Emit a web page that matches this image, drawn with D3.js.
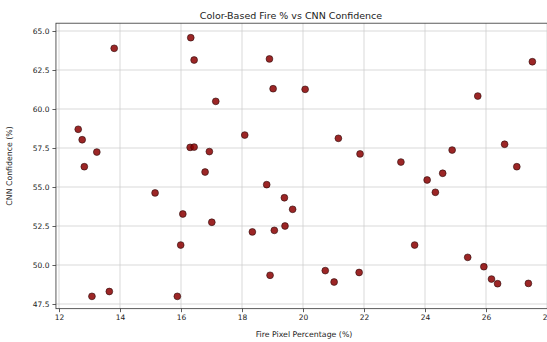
<!DOCTYPE html>
<html>
<head>
<meta charset="utf-8">
<script src="https://cdn.jsdelivr.net/npm/d3@7"></script>
<style>
  body { margin: 0; background: #fff; }
  svg { display: block; }
</style>
</head>
<body>
<svg id="chart"></svg>
<script>
// fire pixel percentage (%) for each sample
const firePct = [
  12.63, 12.76, 12.83, 13.08, 13.24, 13.65, 13.81, 15.15, 15.88, 15.99,
  16.06, 16.30, 16.43, 16.32, 16.43, 16.79, 16.93, 17.01, 17.14, 18.09,
  18.34, 18.81, 18.90, 18.92, 19.02, 19.06, 19.39, 19.41, 19.66, 20.07,
  20.73, 21.02, 21.16, 21.84, 21.87, 23.21, 23.66, 24.07, 24.34, 24.58,
  24.89, 25.40, 25.73, 25.93, 26.18, 26.38, 26.61, 27.01, 27.39, 27.52
];
// CNN confidence (%) for the same samples
const cnnConf = [
  58.70, 58.03, 56.30, 47.99, 57.24, 48.30, 63.89, 54.62, 47.99, 51.28,
  53.27, 57.54, 57.56, 64.57, 63.14, 55.96, 57.27, 52.74, 60.49, 58.33,
  52.12, 55.15, 63.21, 49.34, 61.30, 52.22, 54.31, 52.50, 53.57, 61.26,
  49.64, 48.91, 58.12, 49.52, 57.12, 56.60, 51.28, 55.45, 54.66, 55.88,
  57.37, 50.49, 60.83, 49.89, 49.10, 48.80, 57.74, 56.30, 48.82, 63.03
];
const xTicks = [12, 14, 16, 18, 20, 22, 24, 26, 28];
const yTicks = [47.5, 50.0, 52.5, 55.0, 57.5, 60.0, 62.5, 65.0];

const W = 547, H = 342;
const font = "DejaVu Sans, sans-serif";

const svg = d3.select("#chart").attr("width", W).attr("height", H);

const x = d3.scaleLinear().domain([12, 28]).range([59, 547]);
const y = d3.scaleLinear().domain([47.5, 65]).range([304, 31]);

const pl = x(11.9), pr = x(28.15), pt = y(65.5), pb = y(47.2);

// grid
svg.append("g")
  .selectAll("line")
  .data(xTicks)
  .join("line")
  .attr("x1", d => x(d)).attr("x2", d => x(d))
  .attr("y1", pt).attr("y2", pb)
  .attr("stroke", "#cfcfcf").attr("stroke-width", 0.8);

svg.append("g")
  .selectAll("line")
  .data(yTicks)
  .join("line")
  .attr("x1", pl).attr("x2", pr)
  .attr("y1", d => y(d)).attr("y2", d => y(d))
  .attr("stroke", "#cfcfcf").attr("stroke-width", 0.8);

// axes
const xAxis = d3.axisBottom(x).tickValues(xTicks).tickFormat(d3.format("d")).tickSize(3.5).tickPadding(3);
const yAxis = d3.axisLeft(y).tickValues(yTicks).tickFormat(d3.format(".1f")).tickSize(3.5).tickPadding(3);

const gx = svg.append("g").attr("transform", `translate(0,${pb})`).call(xAxis);
const gy = svg.append("g").attr("transform", `translate(${pl},0)`).call(yAxis);
[gx, gy].forEach(g => {
  g.select(".domain").remove();
  g.selectAll(".tick line").attr("stroke", "#333").attr("stroke-width", 0.8);
  g.selectAll(".tick text").attr("font-family", font).attr("font-size", 7.5).attr("fill", "#222");
});

// frame
svg.append("rect")
  .attr("x", pl).attr("y", pt)
  .attr("width", pr - pl).attr("height", pb - pt)
  .attr("fill", "none").attr("stroke", "#333").attr("stroke-width", 0.8);

// points
svg.append("g")
  .selectAll("circle")
  .data(firePct.map((d, i) => ({ f: d, c: cnnConf[i] })))
  .join("circle")
  .attr("cx", d => x(d.f))
  .attr("cy", d => y(d.c))
  .attr("r", 3.4)
  .attr("fill", "#8b0000")
  .attr("fill-opacity", 0.85)
  .attr("stroke", "#2a0a0a")
  .attr("stroke-width", 0.6);

// labels
svg.append("text")
  .attr("x", 291).attr("y", 19)
  .attr("text-anchor", "middle")
  .attr("font-family", font).attr("font-size", 9.5).attr("fill", "#222")
  .text("Color-Based Fire % vs CNN Confidence");

svg.append("text")
  .attr("x", 304).attr("y", 337)
  .attr("text-anchor", "middle")
  .attr("font-family", font).attr("font-size", 7.8).attr("fill", "#222")
  .text("Fire Pixel Percentage (%)");

svg.append("text")
  .attr("transform", `translate(12,${(pt + pb) / 2}) rotate(-90)`)
  .attr("text-anchor", "middle")
  .attr("font-family", font).attr("font-size", 7.8).attr("fill", "#222")
  .text("CNN Confidence (%)");
</script>
</body>
</html>
